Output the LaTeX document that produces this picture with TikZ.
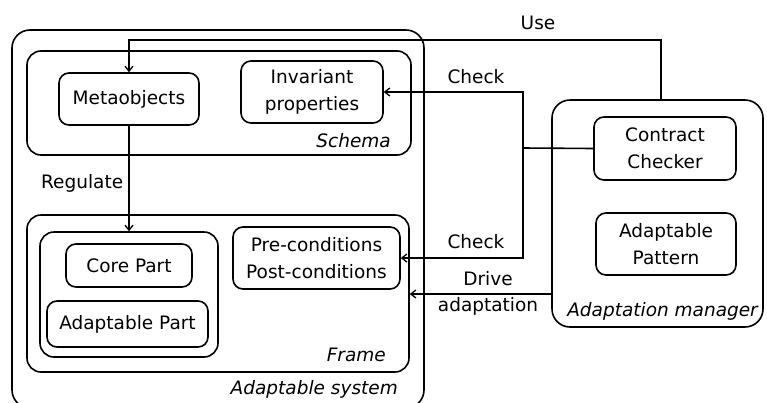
\documentclass[tikz,border=0pt]{standalone}
\usepackage{fontspec}
\setmainfont{DejaVu Sans}
\usetikzlibrary{arrows.meta}
\begin{document}
\begin{tikzpicture}[x=1pt,y=-1pt,
  every node/.style={font=\fontsize{18.5}{26.5}\selectfont, align=center, inner sep=0pt},
  box/.style={draw, line width=1.6pt, rounded corners=10pt},
  bigbox/.style={draw, line width=1.6pt, rounded corners=18pt},
  lbl/.style={font=\fontsize{18.5}{26.5}\selectfont\itshape},
  conn/.style={line width=1.6pt},
  arr/.style={conn, -{Straight Barb[length=5pt,width=8pt,line width=1.3pt]}}]
\clip (0,0) rectangle (767,402);
\fill[white] (0,0) rectangle (767,402);
% containers
\node[bigbox, minimum width=412pt, minimum height=378pt] (sys) at (218,219) {};
\node[box, rounded corners=14pt, minimum width=384pt, minimum height=104pt] (schema) at (219,103) {};
\node[box, rounded corners=14pt, minimum width=382pt, minimum height=157pt] (frame) at (218,293.5) {};
\node[box, rounded corners=14pt, minimum width=178pt, minimum height=125pt] (inner) at (129,294.5) {};
\node[bigbox, minimum width=211pt, minimum height=227pt] (mgr) at (657.5,213.5) {};
% inner boxes
\node[box, minimum width=140pt, minimum height=52pt] (meta) at (129,99) {Metaobjects};
\node[box, minimum width=142pt, minimum height=62pt] (inv) at (312,92) {Invariant\\properties};
\node[box, minimum width=126pt, minimum height=43pt] (core) at (129,265.5) {Core Part};
\node[box, minimum width=161pt, minimum height=46pt] (adpart) at (127.5,324) {Adaptable Part};
\node[box, minimum width=167pt, minimum height=62pt] (pre) at (316.5,258) {Pre-conditions\\Post-conditions};
\node[box, minimum width=142pt, minimum height=63pt] (cc) at (665,148.5) {Contract\\Checker};
\node[box, minimum width=140pt, minimum height=62pt] (pat) at (666,244) {Adaptable\\Pattern};
% container labels
\node[lbl, anchor=east] (schemal) at (391,141) {Schema};
\node[lbl, anchor=east] (framel) at (386,355) {Frame};
\node[lbl, anchor=east] (sysl) at (398,389) {Adaptable system};
\node[lbl, anchor=east] (mgrl) at (758,311) {Adaptation manager};
% connectors
\coordinate (useR) at (661,40);
\draw[arr] (useR |- mgr.north) -- (useR) -| (meta.north);
\coordinate (j) at (523,148);
\draw[conn] (cc.west) -- (j);
\draw[arr] (j) |- (inv.east);
\draw[arr] (j) |- (pre.east);
\coordinate (drv) at (0,294);
\draw[arr] (mgr.west |- drv) -- (frame.east |- drv);
\draw[arr] (meta.south) -- (inner.north);
% connector labels
\node (usel) at (538,23) {Use};
\node (check1) at (476,77) {Check};
\node (check2) at (476,242) {Check};
\node (drivel) at (488,293.5) {Drive\\adaptation};
\node[anchor=west] (regl) at (41,183) {Regulate};
\end{tikzpicture}
\end{document}
